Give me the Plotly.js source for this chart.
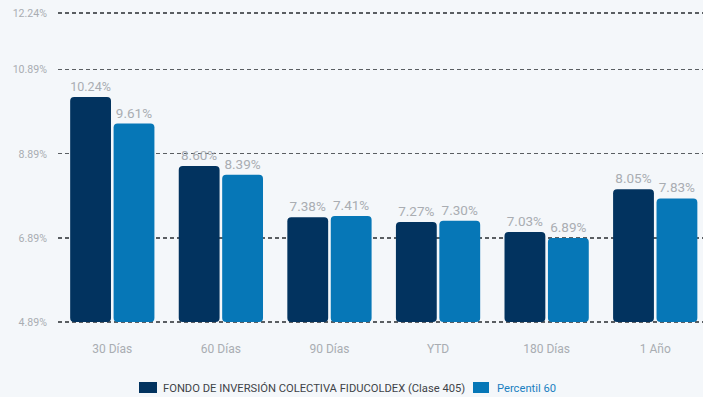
<!DOCTYPE html>
<html><head><meta charset="utf-8">
<script src="https://cdn.plot.ly/plotly-3.0.1.min.js"></script>
<style>html,body{margin:0;padding:0;background:#f4f7fa;}#c{width:703px;height:397px;}</style>
</head><body><div id="c"></div>
<script>
const categories = ["30 Días","60 Días","90 Días","YTD","180 Días","1 Año"];
const fondo = [10.24, 8.60, 7.38, 7.27, 7.03, 8.05];
const percentil = [9.61, 8.39, 7.41, 7.30, 6.89, 7.83];
const tickVals = [4.89, 6.89, 8.89, 10.89, 12.24];
const tickText = ["4.89%","6.89%","8.89%","10.89%","12.24%"];
const seriesNames = ["FONDO DE INVERSIÓN COLECTIVA FIDUCOLDEX (Clase 405)", "Percentil 60"];
const seriesColors = ["#02335f", "#0677b7"];
const axisBase = tickVals[0];

// plot area geometry (pixels) for placing the custom legend
const L = 58, W = 645, T = 10, H = 315, B = T + H;
const px = v => (v - L) / W;
const py = v => (B - v) / H;

const labelFont = {family:"Roboto, sans-serif", size:13.5, color:"#a9adb2"};
function barTrace(vals, i){
  return {type:"bar", x:categories, y:vals.map(v=>v-axisBase), base:axisBase,
    name:seriesNames[i], marker:{color:seriesColors[i]},
    text:vals.map(v=>v.toFixed(2)+"%"),
    textposition:"outside", textfont:labelFont, cliponaxis:false};
}
const traces = [barTrace(fondo,0), barTrace(percentil,1)];
const layout = {
  width:703, height:397,
  paper_bgcolor:"#f4f7fa", plot_bgcolor:"#f4f7fa",
  margin:{l:L, r:703-L-W, t:T, b:397-B},
  barmode:"group", bargap:0.2, bargroupgap:0.06, barcornerradius:4,
  font:{family:"Roboto, sans-serif"},
  showlegend:false,
  xaxis:{range:[-0.5,5.44], showgrid:false, zeroline:false, showline:false,
    ticks:"", automargin:false,
    tickfont:{family:"Roboto, sans-serif", size:12, color:"#a9adb2"},
    ticklabelstandoff:15},
  yaxis:{range:[4.89-3/42, 12.24+3/42], tickvals:tickVals, ticktext:tickText,
    showgrid:true, gridcolor:"#5a5e62", griddash:"4px,3px", gridwidth:1.2,
    zeroline:false, showline:false, ticks:"", automargin:false,
    tickfont:{family:"Roboto, sans-serif", size:10.6, color:"#a9adb2"},
    ticklabelstandoff:10},
  shapes:[
    {type:"rect", xref:"paper", yref:"paper", x0:px(139), x1:px(157), y0:py(382), y1:py(393),
     fillcolor:seriesColors[0], line:{width:0}},
    {type:"rect", xref:"paper", yref:"paper", x0:px(473), x1:px(489), y0:py(382), y1:py(393),
     fillcolor:seriesColors[1], line:{width:0}}
  ],
  annotations:[
    {xref:"paper", yref:"paper", x:px(161), y:py(388), xanchor:"left", yanchor:"middle",
     text:seriesNames[0], showarrow:false,
     font:{family:"Roboto, sans-serif", size:11.2, color:"#3f4448"}},
    {xref:"paper", yref:"paper", x:px(495), y:py(388), xanchor:"left", yanchor:"middle",
     text:seriesNames[1], showarrow:false,
     font:{family:"Roboto, sans-serif", size:11.2, color:"#1a7fc1"}}
  ]
};
Plotly.newPlot("c", traces, layout, {displayModeBar:false, staticPlot:true});
</script></body></html>
